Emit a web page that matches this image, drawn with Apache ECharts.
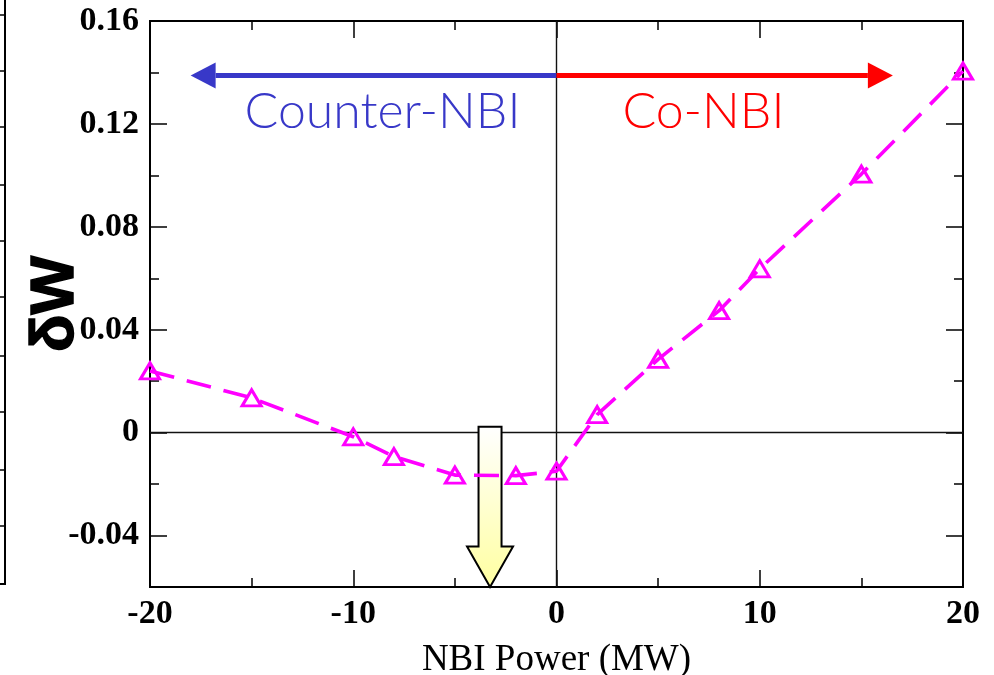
<!DOCTYPE html>
<html>
<head>
<meta charset="utf-8">
<title>δW vs NBI Power</title>
<script src="https://cdn.jsdelivr.net/npm/echarts@6/dist/echarts.min.js"></script>
<style>
  html, body { margin: 0; padding: 0; background: #ffffff; }
  #chart { width: 994px; height: 675px; }
</style>
</head>
<body>
<div id="chart"></div>
<script>
// NBI power scan (MW) and the resulting change in δW
const powerMW = [-20, -15, -10, -8, -5, -2, 0, 2, 5, 8, 10, 15, 20];
const deltaW = [0.024, 0.0135, -0.0016, -0.0093, -0.0165, -0.0167, -0.0150, 0.0070, 0.0285, 0.0474, 0.0637, 0.1005, 0.1405];

// axis ranges and labelled ticks
const xRange = [-20, 20];
const xTickStep = 10;
const yRange = [-0.06, 0.16];
const yMajorTicks = [-0.04, 0, 0.04, 0.08, 0.12, 0.16];
const yMinorStep = 0.02;

// annotations (data units)
const beamArrowY = 0.1388;
const counterTip = -18.0;
const coTip = 16.55;
const counterLabel = { text: 'Counter-NBI', x: -8.56, y: 0.1245 };
const coLabel = { text: 'Co-NBI', x: 7.23, y: 0.1245 };
const dropArrow = { x: -3.27, top: 0.0023, headStart: -0.0443, tip: -0.06 };

const serif = '"Liberation Serif", "Times New Roman", serif';
const lineClr = '#000000';
const magenta = '#ff00ff';

const chart = echarts.init(document.getElementById('chart'), null, { renderer: 'canvas' });

const tickLabelStyle = { fontFamily: serif, fontWeight: 'bold', fontSize: 34, color: '#000' };

function frameAxis(extra) {
  return Object.assign({
    type: 'value',
    axisLine: { show: true, onZero: false, lineStyle: { color: lineClr, width: 2 } },
    splitLine: { show: false },
    axisLabel: { show: false },
    axisTick: { show: false },
    minorTick: { show: false }
  }, extra);
}

const option = {
  animation: false,
  backgroundColor: '#ffffff',
  grid: { left: 150, right: 31, top: 21, bottom: 88, containLabel: false, outerBoundsMode: 'none' },
  xAxis: [
    frameAxis({
      position: 'bottom', min: xRange[0], max: xRange[1], interval: xTickStep,
      axisTick: { show: true, inside: true, length: 17, lineStyle: { color: lineClr, width: 1.5 } },
      minorTick: { show: true, splitNumber: 2, length: 9, lineStyle: { color: lineClr, width: 1.5 } },
      axisLabel: Object.assign({ show: true, margin: 10 }, tickLabelStyle),
      name: 'NBI Power (MW)', nameLocation: 'middle', nameGap: 55, nameMoveOverlap: false,
      nameTextStyle: { fontFamily: serif, fontSize: 37, color: '#000' }
    }),
    frameAxis({
      position: 'top', min: xRange[0], max: xRange[1], interval: xTickStep,
      axisTick: { show: true, inside: true, length: 17, lineStyle: { color: lineClr, width: 1.5 } },
      minorTick: { show: true, splitNumber: 2, length: 9, lineStyle: { color: lineClr, width: 1.5 } }
    })
  ],
  yAxis: [
    frameAxis({
      position: 'left', min: yRange[0], max: yRange[1],
      axisTick: { show: true, inside: true, length: 17, customValues: yMajorTicks, lineStyle: { color: lineClr, width: 1.5 } },
      axisLabel: Object.assign({
        show: true, margin: 11, customValues: yMajorTicks,
        formatter: v => (Math.abs(v) < 1e-9 ? '0' : v.toFixed(2))
      }, tickLabelStyle),
      name: 'δW', nameLocation: 'middle', nameGap: 63, nameRotate: 90, nameMoveOverlap: false,
      nameTextStyle: {
        fontFamily: '"Liberation Sans", Arial, sans-serif', fontWeight: 'bold', fontSize: 62, color: '#000',
        textBorderColor: '#000', textBorderWidth: 1.5
      }
    }),
    frameAxis({
      position: 'left', min: yRange[0], max: yRange[1], interval: yMinorStep,
      axisTick: { show: true, inside: true, length: 9, lineStyle: { color: lineClr, width: 1.5 } }
    }),
    frameAxis({
      position: 'right', min: yRange[0], max: yRange[1],
      axisTick: { show: true, inside: true, length: 17, customValues: yMajorTicks, lineStyle: { color: lineClr, width: 1.5 } }
    }),
    frameAxis({
      position: 'right', min: yRange[0], max: yRange[1], interval: yMinorStep,
      axisTick: { show: true, inside: true, length: 9, lineStyle: { color: lineClr, width: 1.5 } }
    })
  ],
  series: [
    {
      type: 'line',
      xAxisIndex: 0, yAxisIndex: 0,
      z: 5,
      data: powerMW.map((p, i) => [p, deltaW[i]]),
      symbol: 'triangle',
      symbolSize: [19, 16],
      itemStyle: { color: 'rgba(255,255,255,0)', borderColor: magenta, borderWidth: 3 },
      lineStyle: { color: magenta, width: 3.6, type: [25, 13] },
      markLine: {
        silent: true,
        symbol: 'none',
        z: 1,
        label: { show: false },
        lineStyle: { color: '#111', width: 1.4, type: 'solid' },
        data: [{ yAxis: 0 }, { xAxis: 0 }]
      }
    }
  ]
};

chart.setOption(option);

function px(x, y) { return chart.convertToPixel({ xAxisIndex: 0, yAxisIndex: 0 }, [x, y]); }

function beamArrow(x0, x1, y, color) {
  const a = px(x0, y), b = px(x1, y);
  const dir = Math.sign(b[0] - a[0]);
  const headLen = 25, headHalf = 13;
  const baseX = b[0] - dir * headLen;
  return [
    { type: 'line', z: 3, shape: { x1: a[0], y1: a[1], x2: baseX, y2: b[1] }, style: { stroke: color, lineWidth: 5 } },
    { type: 'polygon', z: 3, shape: { points: [[b[0], b[1]], [baseX, b[1] - headHalf], [baseX, b[1] + headHalf]] }, style: { fill: color } }
  ];
}

function beamLabel(lbl, color) {
  const p = px(lbl.x, lbl.y);
  return {
    type: 'text', z: 3, x: p[0], y: p[1],
    style: {
      text: lbl.text, fill: color, align: 'center', verticalAlign: 'middle',
      font: '300 50px Lato, Roboto, "Noto Sans", sans-serif'
    }
  };
}

function yellowArrow(a) {
  const top = px(a.x, a.top), head = px(a.x, a.headStart), tip = px(a.x, a.tip);
  const cx = top[0], shaft = 11.5, half = 23;
  return {
    type: 'polygon', z: 1,
    shape: {
      points: [
        [cx - shaft, top[1]], [cx + shaft, top[1]], [cx + shaft, head[1]], [cx + half, head[1]],
        [cx, tip[1]], [cx - half, head[1]], [cx - shaft, head[1]]
      ]
    },
    style: {
      fill: new echarts.graphic.LinearGradient(0, 0, 0, 1, [
        { offset: 0, color: '#ffffff' }, { offset: 1, color: '#ffffa0' }
      ]),
      stroke: '#000', lineWidth: 2
    }
  };
}

// edge of the neighbouring panel on the far left
const neighbourTicks = [15, 71, 127, 185, 241, 297, 356, 412, 470, 526];
function neighbourFrame() {
  const els = [
    { type: 'line', shape: { x1: 5, y1: 0, x2: 5, y2: 584 }, style: { stroke: '#000', lineWidth: 2 } },
    { type: 'line', shape: { x1: 0, y1: 584, x2: 6, y2: 584 }, style: { stroke: '#000', lineWidth: 2 } }
  ];
  neighbourTicks.forEach(t => els.push({ type: 'line', shape: { x1: 0, y1: t, x2: 5, y2: t }, style: { stroke: '#000', lineWidth: 1.5 } }));
  return els;
}

chart.setOption({
  graphic: [].concat(
    beamArrow(0, counterTip, beamArrowY, '#3838c8'),
    beamArrow(0, coTip, beamArrowY, '#ff0000'),
    [beamLabel(counterLabel, '#3838c8'), beamLabel(coLabel, '#ff0000'), yellowArrow(dropArrow)],
    neighbourFrame()
  )
});
</script>
</body>
</html>
